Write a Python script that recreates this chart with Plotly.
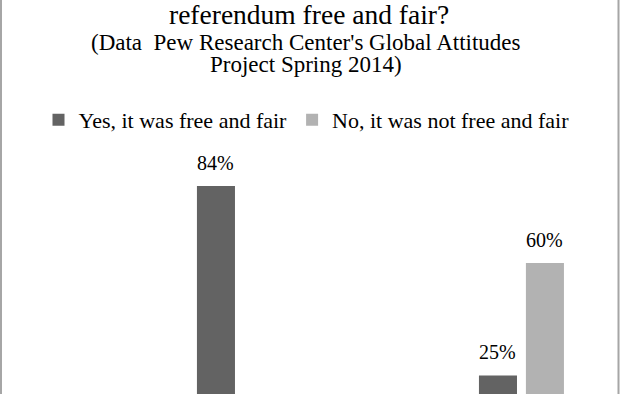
import plotly.graph_objects as go

categories = ["Russia", "Ukraine"]
yes_values = [84, 25]
no_values = [7, 60]
series_names = ["Yes, it was free and fair", "No, it was not free and fair"]
title_line = "referendum free and fair?"
subtitle_lines = ["(Data  Pew Research Center's Global Attitudes", "Project Spring 2014)"]

FONT = "Liberation Serif, Times New Roman, serif"
W, H = 621, 394
TOP = 140  # plot area top in px
COLORS = ["#636363", "#b2b2b2"]

def ypaper(px):
    return (H - px) / (H - TOP)

fig = go.Figure()
for name, vals, col in zip(series_names, [yes_values, no_values], COLORS):
    fig.add_trace(go.Bar(
        x=categories, y=vals, name=name,
        marker=dict(color=col, line=dict(width=0)),
        cliponaxis=True,
    ))

# value labels above bars (offset to each bar in its group)
for vals, dx in zip([yes_values, no_values], [-23.5, 23.5]):
    for cat, v in zip(categories, vals):
        fig.add_annotation(text=f"{v}%", x=cat, y=v, xref="x", yref="y",
                           xshift=dx, yshift=10, xanchor="center", yanchor="bottom",
                           showarrow=False,
                           font=dict(family=FONT, size=20, color="#000000"))

fig.add_annotation(text=title_line, xref="paper", yref="paper", x=0.498, y=ypaper(14.5),
                   xanchor="center", yanchor="middle", showarrow=False,
                   font=dict(family=FONT, size=27.5, color="#000000"))
for line, base in zip(subtitle_lines, [50, 72]):
    fig.add_annotation(text=line, xref="paper", yref="paper", x=0.493, y=ypaper(base - 7.8),
                       xanchor="center", yanchor="middle", showarrow=False,
                       font=dict(family=FONT, size=23, color="#000000"))

# chart frame (left and right edges visible)
for xp in [1 / W, 618.5 / W]:
    fig.add_shape(type="line", xref="paper", yref="paper", x0=xp, x1=xp, y0=-0.5, y1=2.0,
                  line=dict(color="#a6a6a6", width=2))

fig.update_layout(
    width=W, height=H,
    margin=dict(l=0, r=0, t=TOP, b=0, pad=0),
    paper_bgcolor="#ffffff", plot_bgcolor="#ffffff",
    barmode="group", bargap=0.667, bargroupgap=0.19,
    showlegend=True,
    legend=dict(orientation="h", x=0.5 - 4 / W, xanchor="center", y=ypaper(120), yanchor="middle",
                font=dict(family=FONT, size=22, color="#000000"),
                bgcolor="rgba(0,0,0,0)", traceorder="normal"),
    xaxis=dict(type="category", range=[-0.849, 1.353], showgrid=False, showline=False,
               zeroline=False, ticks="", showticklabels=False),
    yaxis=dict(range=[19.2, 98.3], showgrid=False, showline=False, zeroline=False,
               ticks="", showticklabels=False),
    font=dict(family=FONT),
)

fig.write_html("out.html", config={"displayModeBar": False},
               post_script="document.body.style.margin='0';document.body.style.overflow='hidden';")
